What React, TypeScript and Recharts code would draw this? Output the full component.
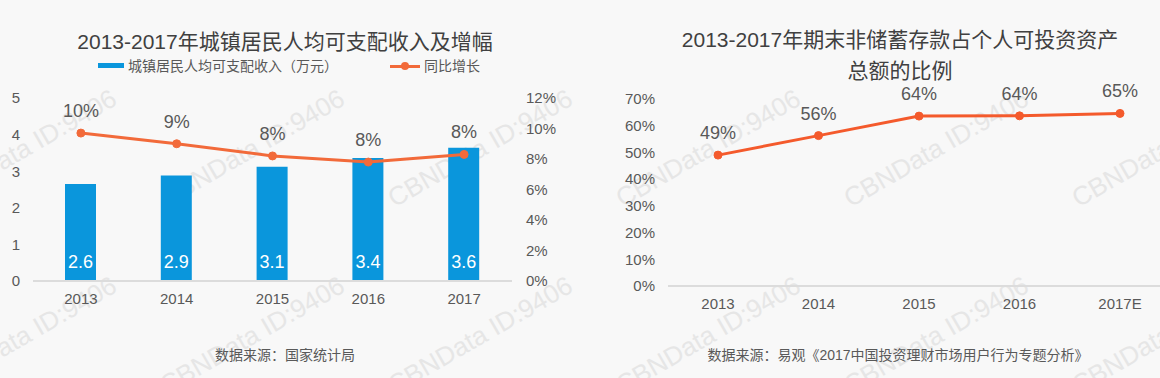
import React from "react";
import {
  ComposedChart,
  LineChart,
  Bar,
  Line,
  XAxis,
  YAxis,
  LabelList,
} from "recharts";

// 左图：城镇居民人均可支配收入及增幅
const years = ["2013", "2014", "2015", "2016", "2017"];
const income = [2.65, 2.88, 3.12, 3.36, 3.64];
const incomeLabels = ["2.6", "2.9", "3.1", "3.4", "3.6"];
const growth = [9.7, 9.0, 8.2, 7.8, 8.3];

// 右图：期末非储蓄存款占个人可投资资产总额的比例
const years2 = ["2013", "2014", "2015", "2016", "2017E"];
const share = [49, 56.3, 63.6, 63.7, 64.6];

const leftTicks = [0, 1, 2, 3, 4, 5];
const rightTicks = [0, 2, 4, 6, 8, 10, 12];
const shareTicks = [0, 10, 20, 30, 40, 50, 60, 70];

const FONT = "'Liberation Sans', Arial, 'Noto Sans CJK SC', sans-serif";
const BLUE = "#0a96dc";
const ORANGE = "#f26a3a";
const RED = "#f45a2c";
const TEXT = "#595959";

const leftData = years.map((y, i) => ({
  year: y,
  income: income[i],
  incomeLabel: incomeLabels[i],
  growth: growth[i],
}));

const rightData = years2.map((y, i) => ({ year: y, share: share[i] }));

const tick = { fontSize: 15, fill: TEXT, fontFamily: FONT };
const pct = (v: number) => `${Math.round(v)}%`;

// watermark grid
const marks = [24, 252, 480, 708, 936, 1164].flatMap((x) => [
  { x, y: 148 },
  { x, y: 335 },
]);

export default function App() {
  return (
    <div
      style={{
        position: "absolute",
        left: 0,
        top: 0,
        width: 1160,
        height: 378,
        overflow: "hidden",
        background: "#f8f8f8",
        fontFamily: FONT,
        color: TEXT,
      }}
    >
      {marks.map((m, i) => (
        <div
          key={i}
          style={{
            position: "absolute",
            left: m.x - 110,
            top: m.y - 15,
            width: 220,
            textAlign: "center",
            fontSize: 26,
            lineHeight: "30px",
            color: "#e6e6e6",
            transform: "rotate(-30deg)",
            whiteSpace: "nowrap",
          }}
        >
          CBNData ID:9406
        </div>
      ))}

      {/* left title + legend */}
      <div
        style={{
          position: "absolute",
          left: 0,
          width: 570,
          top: 28,
          textAlign: "center",
          fontSize: 21,
          lineHeight: "28px",
          color: "#404040",
        }}
      >
        2013-2017年城镇居民人均可支配收入及增幅
      </div>
      <div style={{ position: "absolute", left: 98, top: 63, width: 26, height: 5, background: BLUE }} />
      <div style={{ position: "absolute", left: 128, top: 57, fontSize: 14, lineHeight: "18px" }}>
        城镇居民人均可支配收入（万元）
      </div>
      <div style={{ position: "absolute", left: 390, top: 64.5, width: 30, height: 3, background: ORANGE }} />
      <div
        style={{
          position: "absolute",
          left: 401,
          top: 62,
          width: 8,
          height: 8,
          borderRadius: 4,
          background: ORANGE,
        }}
      />
      <div style={{ position: "absolute", left: 424, top: 57, fontSize: 14, lineHeight: "18px" }}>
        同比增长
      </div>

      <div style={{ position: "absolute", left: 0, top: 0 }}>
        <ComposedChart
          width={580}
          height={320}
          data={leftData}
          margin={{ top: 98, right: 0, bottom: 9, left: 0 }}
        >
          <XAxis
            dataKey="year"
            axisLine={{ stroke: "#dcdcdc", strokeWidth: 2 }}
            tickLine={false}
            tick={tick}
            tickMargin={6}
          />
          <YAxis
            yAxisId="l"
            width={33}
            domain={[0, 5]}
            ticks={leftTicks}
            axisLine={false}
            tickLine={false}
            tick={tick}
            tickMargin={7}
          />
          <YAxis
            yAxisId="r"
            orientation="right"
            width={68}
            domain={[0, 12]}
            ticks={rightTicks}
            tickFormatter={(v) => `${v}%`}
            axisLine={false}
            tickLine={false}
            tick={{ ...tick, textAnchor: "start" }}
            tickMargin={8}
          />
          <Bar yAxisId="l" dataKey="income" fill={BLUE} barSize={31} isAnimationActive={false}>
            <LabelList
              dataKey="incomeLabel"
              position="insideBottom"
              offset={13}
              fill="#ffffff"
              fontSize={18}
              fontFamily={FONT}
            />
          </Bar>
          <Line
            yAxisId="r"
            dataKey="growth"
            stroke={ORANGE}
            strokeWidth={3}
            dot={{ r: 4, fill: ORANGE, stroke: ORANGE, strokeWidth: 1 }}
            activeDot={false}
            isAnimationActive={false}
          >
            <LabelList
              dataKey="growth"
              position="top"
              offset={16}
              formatter={(v: number) => pct(v)}
              fill={TEXT}
              fontSize={18}
              fontFamily={FONT}
            />
          </Line>
        </ComposedChart>
      </div>

      {/* right title */}
      <div
        style={{
          position: "absolute",
          left: 600,
          width: 600,
          top: 24,
          textAlign: "center",
          fontSize: 21,
          lineHeight: "31px",
          color: "#404040",
        }}
      >
        2013-2017年期末非储蓄存款占个人可投资资产
        <br />
        总额的比例
      </div>

      <div style={{ position: "absolute", left: 580, top: 0 }}>
        <LineChart
          width={580}
          height={320}
          data={rightData}
          margin={{ top: 99, right: 0, bottom: 4, left: 0 }}
        >
          <XAxis
            dataKey="year"
            padding={{ left: 50, right: 40 }}
            axisLine={{ stroke: "#dcdcdc", strokeWidth: 2 }}
            tickLine={false}
            tick={tick}
            tickMargin={6}
          />
          <YAxis
            width={88}
            domain={[0, 70]}
            ticks={shareTicks}
            tickFormatter={(v) => `${v}%`}
            axisLine={false}
            tickLine={false}
            tick={tick}
            tickMargin={7}
          />
          <Line
            dataKey="share"
            stroke={RED}
            strokeWidth={3}
            dot={{ r: 4, fill: RED, stroke: RED, strokeWidth: 1 }}
            activeDot={false}
            isAnimationActive={false}
          >
            <LabelList
              dataKey="share"
              position="top"
              offset={16}
              formatter={(v: number) => pct(v)}
              fill={TEXT}
              fontSize={18}
              fontFamily={FONT}
            />
          </Line>
        </LineChart>
      </div>

      {/* sources */}
      <div
        style={{
          position: "absolute",
          left: 0,
          width: 570,
          top: 345,
          textAlign: "center",
          fontSize: 14,
          lineHeight: "20px",
        }}
      >
        数据来源：国家统计局
      </div>
      <div
        style={{
          position: "absolute",
          left: 600,
          width: 596,
          top: 345,
          textAlign: "center",
          fontSize: 14,
          lineHeight: "20px",
        }}
      >
        数据来源：易观《2017中国投资理财市场用户行为专题分析》
      </div>
    </div>
  );
}
